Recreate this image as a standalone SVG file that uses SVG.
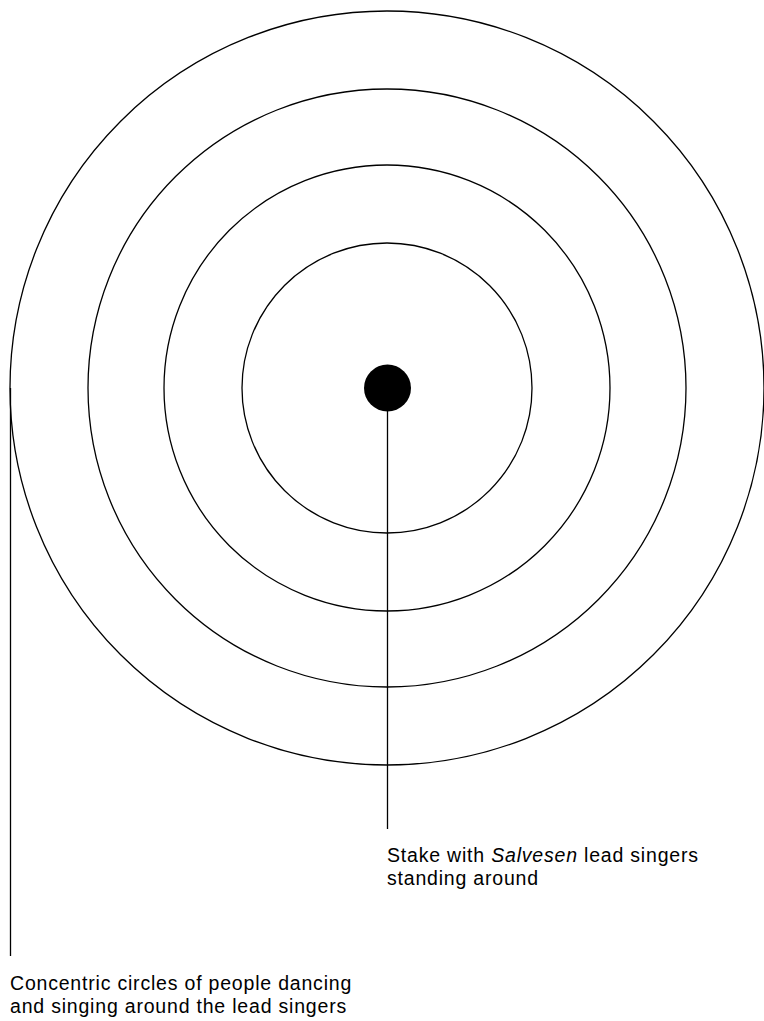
<svg xmlns="http://www.w3.org/2000/svg" width="764" height="1021" viewBox="0 0 764 1021">
<style>
.ring{fill:none;stroke:#000;stroke-width:1.3}
.lead{stroke:#000;stroke-width:1.3;fill:none}
text{font-family:"Liberation Sans",Arial,sans-serif;font-size:19.5px;letter-spacing:0.8px;fill:#000}
</style>
<rect width="764" height="1021" fill="#fff"/>
<g id="rings">
<circle id="ring1" class="ring" cx="387" cy="388" r="377"/>
<circle id="ring2" class="ring" cx="387" cy="388" r="299"/>
<circle id="ring3" class="ring" cx="387" cy="388" r="223"/>
<circle id="ring4" class="ring" cx="387" cy="388" r="145"/>
</g>
<g id="stake"><circle cx="387.5" cy="388" r="23.5" fill="#000"/></g>
<g id="connectors">
<line class="lead" x1="387.5" y1="400" x2="387.5" y2="829"/>
<line class="lead" x1="10.5" y1="388" x2="10.5" y2="956"/>
</g>
<g id="label-stake">
<text x="387" y="862">Stake with <tspan font-style="italic">Salvesen</tspan> lead singers</text>
<text x="387" y="885">standing around</text>
</g>
<g id="label-circles">
<text x="10" y="990">Concentric circles of people dancing</text>
<text x="10" y="1013">and singing around the lead singers</text>
</g>
</svg>
